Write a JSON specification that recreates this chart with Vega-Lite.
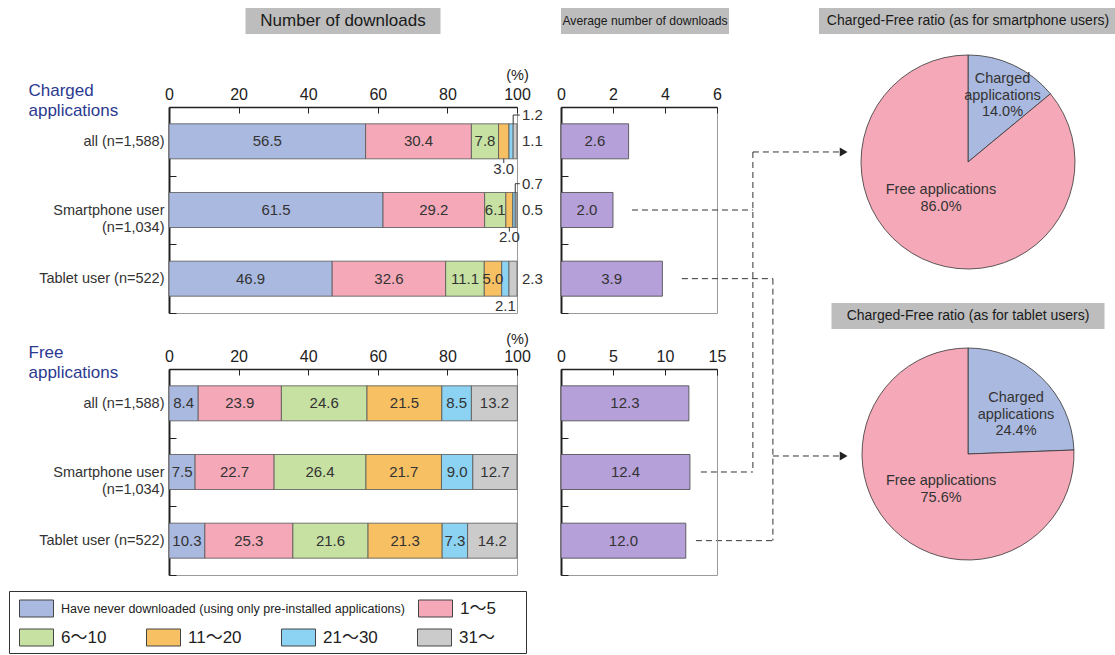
{
  "$schema": "https://vega.github.io/schema/vega-lite/v6.json",
  "background": "white",
  "padding": {"left": 8, "top": 7, "right": 0, "bottom": 0},
  "config": {
    "view": {"stroke": "#9a9a9a", "strokeWidth": 1},
    "axis": {"grid": false, "domainColor": "#222", "tickColor": "#222", "labelColor": "#222", "labelFont": "Liberation Sans, Noto Sans CJK JP, sans-serif", "labelFontSize": 16, "titleFont": "Liberation Sans, sans-serif"},
    "text": {"font": "Liberation Sans, Noto Sans CJK JP, sans-serif", "fontSize": 15, "color": "#333"}
  },
  "datasets": {
    "dl": [
      {"g": "Charged", "u": "all (n=1,588)", "k": 1, "c": "Have never downloaded (using only pre-installed applications)", "v": 56.5},
      {"g": "Charged", "u": "all (n=1,588)", "k": 2, "c": "1～5", "v": 30.4},
      {"g": "Charged", "u": "all (n=1,588)", "k": 3, "c": "6～10", "v": 7.8},
      {"g": "Charged", "u": "all (n=1,588)", "k": 4, "c": "11～20", "v": 3.0},
      {"g": "Charged", "u": "all (n=1,588)", "k": 5, "c": "21～30", "v": 1.2},
      {"g": "Charged", "u": "all (n=1,588)", "k": 6, "c": "31～", "v": 1.1},
      {"g": "Charged", "u": "Smartphone user (n=1,034)", "k": 1, "c": "Have never downloaded (using only pre-installed applications)", "v": 61.5},
      {"g": "Charged", "u": "Smartphone user (n=1,034)", "k": 2, "c": "1～5", "v": 29.2},
      {"g": "Charged", "u": "Smartphone user (n=1,034)", "k": 3, "c": "6～10", "v": 6.1},
      {"g": "Charged", "u": "Smartphone user (n=1,034)", "k": 4, "c": "11～20", "v": 2.0},
      {"g": "Charged", "u": "Smartphone user (n=1,034)", "k": 5, "c": "21～30", "v": 0.7},
      {"g": "Charged", "u": "Smartphone user (n=1,034)", "k": 6, "c": "31～", "v": 0.5},
      {"g": "Charged", "u": "Tablet user (n=522)", "k": 1, "c": "Have never downloaded (using only pre-installed applications)", "v": 46.9},
      {"g": "Charged", "u": "Tablet user (n=522)", "k": 2, "c": "1～5", "v": 32.6},
      {"g": "Charged", "u": "Tablet user (n=522)", "k": 3, "c": "6～10", "v": 11.1},
      {"g": "Charged", "u": "Tablet user (n=522)", "k": 4, "c": "11～20", "v": 5.0},
      {"g": "Charged", "u": "Tablet user (n=522)", "k": 5, "c": "21～30", "v": 2.1},
      {"g": "Charged", "u": "Tablet user (n=522)", "k": 6, "c": "31～", "v": 2.3},
      {"g": "Free", "u": "all (n=1,588)", "k": 1, "c": "Have never downloaded (using only pre-installed applications)", "v": 8.4},
      {"g": "Free", "u": "all (n=1,588)", "k": 2, "c": "1～5", "v": 23.9},
      {"g": "Free", "u": "all (n=1,588)", "k": 3, "c": "6～10", "v": 24.6},
      {"g": "Free", "u": "all (n=1,588)", "k": 4, "c": "11～20", "v": 21.5},
      {"g": "Free", "u": "all (n=1,588)", "k": 5, "c": "21～30", "v": 8.5},
      {"g": "Free", "u": "all (n=1,588)", "k": 6, "c": "31～", "v": 13.2},
      {"g": "Free", "u": "Smartphone user (n=1,034)", "k": 1, "c": "Have never downloaded (using only pre-installed applications)", "v": 7.5},
      {"g": "Free", "u": "Smartphone user (n=1,034)", "k": 2, "c": "1～5", "v": 22.7},
      {"g": "Free", "u": "Smartphone user (n=1,034)", "k": 3, "c": "6～10", "v": 26.4},
      {"g": "Free", "u": "Smartphone user (n=1,034)", "k": 4, "c": "11～20", "v": 21.7},
      {"g": "Free", "u": "Smartphone user (n=1,034)", "k": 5, "c": "21～30", "v": 9.0},
      {"g": "Free", "u": "Smartphone user (n=1,034)", "k": 6, "c": "31～", "v": 12.7},
      {"g": "Free", "u": "Tablet user (n=522)", "k": 1, "c": "Have never downloaded (using only pre-installed applications)", "v": 10.3},
      {"g": "Free", "u": "Tablet user (n=522)", "k": 2, "c": "1～5", "v": 25.3},
      {"g": "Free", "u": "Tablet user (n=522)", "k": 3, "c": "6～10", "v": 21.6},
      {"g": "Free", "u": "Tablet user (n=522)", "k": 4, "c": "11～20", "v": 21.3},
      {"g": "Free", "u": "Tablet user (n=522)", "k": 5, "c": "21～30", "v": 7.3},
      {"g": "Free", "u": "Tablet user (n=522)", "k": 6, "c": "31～", "v": 14.2}
    ],
    "legendRow2": [
      {"cat": "6～10"}, {"cat": "11～20"}, {"cat": "21～30"}, {"cat": "31～"}
    ],
    "avg": [
      {"g": "Charged", "u": "all (n=1,588)", "a": 2.6},
      {"g": "Charged", "u": "Smartphone user (n=1,034)", "a": 2.0},
      {"g": "Charged", "u": "Tablet user (n=522)", "a": 3.9},
      {"g": "Free", "u": "all (n=1,588)", "a": 12.3},
      {"g": "Free", "u": "Smartphone user (n=1,034)", "a": 12.4},
      {"g": "Free", "u": "Tablet user (n=522)", "a": 12.0}
    ],
    "pies": [
      {"who": "smartphone", "k": 1, "part": "Charged applications", "share": 0.14},
      {"who": "smartphone", "k": 2, "part": "Free applications", "share": 0.86},
      {"who": "tablet", "k": 1, "part": "Charged applications", "share": 0.244},
      {"who": "tablet", "k": 2, "part": "Free applications", "share": 0.756}
    ],
    "links": [
      {"x": 2.73, "x2": 7.38, "y": 1.5, "y2": 1.5},
      {"x": 7.38, "x2": 7.38, "y": 0.655, "y2": 5.3155},
      {"x": 7.38, "x2": 10.7, "y": 0.655, "y2": 0.655},
      {"x": 5.38, "x2": 7.38, "y": 5.3155, "y2": 5.3155},
      {"x": 4.65, "x2": 8.15, "y": 2.5, "y2": 2.5},
      {"x": 8.15, "x2": 8.15, "y": 2.5, "y2": 6.3155},
      {"x": 5.19, "x2": 8.15, "y": 6.3155, "y2": 6.3155},
      {"x": 8.15, "x2": 10.7, "y": 5.0825, "y2": 5.0825}
    ],
    "arrows": [
      {"x": 10.87, "y": 0.655},
      {"x": 10.87, "y": 5.0825}
    ]
  },
  "resolve": {"scale": {"color": "independent", "fill": "independent"}, "legend": {"color": "independent", "fill": "independent"}},
  "bounds": "flush",
  "spacing": 160,
  "hconcat": [
    {
      "bounds": "flush",
      "spacing": 582,
      "resolve": {"scale": {"color": "independent", "fill": "independent"}, "legend": {"color": "independent", "fill": "independent"}},
      "vconcat": [
        {
          "width": 1, "height": 1, "view": {"stroke": null},
          "data": {"values": [{}]},
          "mark": {"type": "rule", "opacity": 0},
          "encoding": {}
        },
        {
          "width": 517, "height": 62,
          "view": {"stroke": "#333", "strokeWidth": 1},
          "layer": [
            {
              "data": {"name": "dl"},
              "mark": {"type": "square", "opacity": 0},
              "encoding": {
                "color": {
                  "field": "c", "type": "nominal",
                  "scale": {"domain": ["Have never downloaded (using only pre-installed applications)", "1～5", "6～10", "11～20", "21～30", "31～"], "range": ["#aab9df", "#f5a9b8", "#c6e1a2", "#f7c063", "#8cd2f2", "#cbcbcb"]},
                  "legend": {
                    "values": ["Have never downloaded (using only pre-installed applications)", "1～5"],
                    "orient": "none", "legendX": 10, "legendY": 0, "direction": "horizontal", "columns": 2, "columnPadding": 11,
                    "title": null, "padding": 0,
                    "symbolType": "M-1,-0.5H1V0.5H-1Z", "symbolSize": 1156, "symbolStrokeColor": "#444", "symbolStrokeWidth": 1, "symbolOpacity": 1,
                    "labelFont": "Liberation Sans, Noto Sans CJK JP, sans-serif", "labelFontSize": 12.5, "labelColor": "#222", "labelOffset": 7, "labelLimit": 600,
                    "encode": {"labels": {"update": {"fontSize": {"signal": "datum.value == '1～5' ? 17 : 12.5"}}}}
                  }
                }
              }
            },
            {
              "data": {"name": "legendRow2"},
              "mark": {"type": "square", "opacity": 0},
              "encoding": {
                "fill": {
                  "field": "cat", "type": "nominal",
                  "scale": {"domain": ["6～10", "11～20", "21～30", "31～"], "range": ["#c6e1a2", "#f7c063", "#8cd2f2", "#cbcbcb"]},
                  "legend": {
                    "orient": "none", "legendX": 10, "legendY": 29, "direction": "horizontal", "columns": 4, "columnPadding": 37,
                    "title": null, "padding": 0,
                    "symbolType": "M-1,-0.5H1V0.5H-1Z", "symbolSize": 1156, "symbolStrokeColor": "#444", "symbolStrokeWidth": 1, "symbolOpacity": 1,
                    "labelFont": "Liberation Sans, Noto Sans CJK JP, sans-serif", "labelFontSize": 17, "labelColor": "#222", "labelOffset": 7, "labelLimit": 200
                  }
                }
              }
            }
          ]
        }
      ]
    },
    {
      "bounds": "flush",
      "spacing": 650,
      "resolve": {"scale": {"color": "independent"}},
      "hconcat": [
        {
          "columns": 2,
          "bounds": "flush",
          "align": "each",
          "center": {"column": true},
          "spacing": {"row": 56, "column": 44},
          "concat": [
            {
              "width": 195, "height": 43, "view": {"stroke": null},
              "data": {"values": [{"h": "Number of downloads"}]},
              "encoding": {"y": {"field": "h", "type": "nominal", "axis": null, "scale": {"paddingInner": 0, "paddingOuter": 0.327, "align": 0}}},
              "layer": [
                {"mark": {"type": "bar", "color": "#bdbdbd"}},
                {"mark": {"type": "text", "fontSize": 17, "color": "#1a1a1a"}, "encoding": {"text": {"field": "h"}}}
              ]
            },
            {
              "width": 168, "height": 43, "view": {"stroke": null},
              "data": {"values": [{"h": "Average number of downloads"}]},
              "encoding": {"y": {"field": "h", "type": "nominal", "axis": null, "scale": {"paddingInner": 0, "paddingOuter": 0.327, "align": 0}}},
              "layer": [
                {"mark": {"type": "bar", "color": "#bdbdbd"}},
                {"mark": {"type": "text", "fontSize": 12.2, "color": "#1a1a1a"}, "encoding": {"text": {"field": "h"}}}
              ]
            },
            {
              "width": 348, "height": 206,
              "data": {"name": "dl"},
              "transform": [{"filter": "datum.g == 'Charged'"}],
              "encoding": {
                "y": {
                  "field": "u", "type": "nominal", "sort": null,
                  "scale": {"paddingInner": 0, "paddingOuter": 0},
                  "axis": {
                    "title": ["Charged", "applications"], "titleAngle": 0, "titleAlign": "left", "titleBaseline": "alphabetic",
                    "titleX": -141, "titleY": -12, "titleFontSize": 17, "titleFontWeight": "normal", "titleColor": "#2b3990", "titleLineHeight": 20,
                    "labelExpr": "datum.label == 'Smartphone user (n=1,034)' ? ['Smartphone user', '(n=1,034)'] : datum.label",
                    "labelFontSize": 14.5, "labelColor": "#333", "labelLineHeight": 17, "labelPadding": 12,
                    "tickBand": "extent", "tickSize": -7, "domainWidth": 2
                  }
                },
                "order": {"field": "k", "type": "quantitative"}
              },
              "layer": [
                {
                  "mark": {"type": "bar", "height": {"band": 0.51}, "stroke": "#555", "strokeWidth": 0.8},
                  "encoding": {
                    "x": {
                      "field": "v", "type": "quantitative", "stack": "zero", "scale": {"domain": [0, 100]},
                      "axis": {"orient": "top", "values": [0, 20, 40, 60, 80, 100], "title": "(%)", "titleX": 348, "titleY": -32, "titleAlign": "center", "titleBaseline": "middle", "titleFontSize": 14.5, "titleFontWeight": "normal", "titleColor": "#222", "tickSize": -6, "labelPadding": 11, "labelFlush": false, "domainWidth": 1.5}
                    },
                    "color": {"field": "c", "type": "nominal", "scale": {"domain": ["Have never downloaded (using only pre-installed applications)", "1～5", "6～10", "11～20", "21～30", "31～"], "range": ["#aab9df", "#f5a9b8", "#c6e1a2", "#f7c063", "#8cd2f2", "#cbcbcb"]}, "legend": null}
                  }
                },
                {
                  "mark": {"type": "text"},
                  "encoding": {
                    "x": {"field": "v", "type": "quantitative", "stack": "zero", "bandPosition": 0.5, "scale": {"domain": [0, 100]}},
                    "text": {"condition": {"test": "datum.v >= 5", "field": "v", "type": "quantitative", "format": ".1f"}, "value": ""}
                  }
                },
                {
                  "mark": {"type": "text", "baseline": "middle"},
                  "encoding": {
                    "x": {"field": "v", "type": "quantitative", "stack": "zero", "bandPosition": 0.5, "scale": {"domain": [0, 100]}},
                    "y": {"field": "u", "type": "nominal", "sort": null, "bandPosition": 0.9},
                    "text": {"condition": {"test": "datum.v < 5 && (datum.c == '11～20' || (datum.c == '21～30' && datum.u == 'Tablet user (n=522)'))", "field": "v", "type": "quantitative", "format": ".1f"}, "value": ""}
                  }
                },
                {
                  "mark": {"type": "rule", "color": "#333", "strokeWidth": 1},
                  "encoding": {
                    "x": {"field": "v", "type": "quantitative", "stack": "zero", "bandPosition": 0.5, "scale": {"domain": [0, 100]}},
                    "y": {"field": "u", "type": "nominal", "sort": null, "bandPosition": 0.75},
                    "y2": {"field": "u", "bandPosition": 0.815},
                    "opacity": {"condition": {"test": "datum.v < 5 && datum.c == '11～20'", "value": 1}, "value": 0}
                  }
                },
                {
                  "mark": {"type": "text", "align": "left", "dx": 5},
                  "encoding": {
                    "x": {"datum": 100, "type": "quantitative", "scale": {"domain": [0, 100]}},
                    "text": {"condition": {"test": "datum.v < 5 && datum.c == '31～'", "field": "v", "type": "quantitative", "format": ".1f"}, "value": ""}
                  }
                },
                {
                  "mark": {"type": "text", "align": "left", "baseline": "middle", "dx": 5},
                  "encoding": {
                    "x": {"datum": 100, "type": "quantitative", "scale": {"domain": [0, 100]}},
                    "y": {"field": "u", "type": "nominal", "sort": null, "bandPosition": 0.117},
                    "text": {"condition": {"test": "datum.v < 5 && datum.c == '21～30' && datum.u != 'Tablet user (n=522)'", "field": "v", "type": "quantitative", "format": ".1f"}, "value": ""}
                  }
                },
                {
                  "transform": [
                    {"stack": "v", "groupby": ["u"], "sort": [{"field": "k", "order": "ascending"}], "as": ["s0", "s1"]},
                    {"filter": "datum.v < 5 && datum.c == '21～30' && datum.u != 'Tablet user (n=522)'"}
                  ],
                  "mark": {"type": "rule", "color": "#333", "strokeWidth": 1},
                  "encoding": {
                    "x": {"field": "s1", "type": "quantitative", "scale": {"domain": [0, 100]}},
                    "y": {"field": "u", "type": "nominal", "sort": null, "bandPosition": 0.245},
                    "y2": {"field": "u", "bandPosition": 0.117}
                  }
                },
                {
                  "transform": [
                    {"stack": "v", "groupby": ["u"], "sort": [{"field": "k", "order": "ascending"}], "as": ["s0", "s1"]},
                    {"filter": "datum.v < 5 && datum.c == '21～30' && datum.u != 'Tablet user (n=522)'"}
                  ],
                  "mark": {"type": "rule", "color": "#333", "strokeWidth": 1},
                  "encoding": {
                    "x": {"field": "s1", "type": "quantitative", "scale": {"domain": [0, 100]}},
                    "x2": {"datum": 100.8},
                    "y": {"field": "u", "type": "nominal", "sort": null, "bandPosition": 0.117}
                  }
                }
              ]
            },
            {
              "width": 156, "height": 206,
              "resolve": {"scale": {"y": "independent"}},
              "layer": [
                {
                  "data": {"name": "avg"},
                  "transform": [{"filter": "datum.g == 'Charged'"}],
                  "encoding": {
                    "y": {"field": "u", "type": "nominal", "sort": null, "scale": {"paddingInner": 0, "paddingOuter": 0},
                      "axis": {"title": null, "labels": false, "tickBand": "extent", "tickSize": -7, "domainWidth": 2}}
                  },
                  "layer": [
                    {
                      "mark": {"type": "bar", "height": {"band": 0.51}, "color": "#b6a0d9", "stroke": "#444", "strokeWidth": 0.8},
                      "encoding": {
                        "x": {"field": "a", "type": "quantitative", "scale": {"domain": [0, 6]},
                          "axis": {"orient": "top", "values": [0, 2, 4, 6], "title": null, "tickSize": -6, "labelPadding": 11, "labelFlush": false, "domainWidth": 1.5}}
                      }
                    },
                    {
                      "mark": {"type": "text"},
                      "encoding": {
                        "x": {"field": "a", "type": "quantitative", "stack": "zero", "bandPosition": 0.5, "scale": {"domain": [0, 6]}},
                        "text": {"field": "a", "type": "quantitative", "format": ".1f"}
                      }
                    }
                  ]
                },
                {
                  "layer": [
                    {
                      "data": {"name": "links"},
                      "mark": {"type": "rule", "color": "#333", "strokeWidth": 1, "strokeDash": [6, 4]},
                      "encoding": {
                        "x": {"field": "x", "type": "quantitative", "scale": {"domain": [0, 6]}},
                        "x2": {"field": "x2"},
                        "y": {"field": "y", "type": "quantitative", "scale": {"domain": [0, 3], "reverse": true, "nice": false, "zero": false}, "axis": null},
                        "y2": {"field": "y2"}
                      }
                    },
                    {
                      "data": {"name": "arrows"},
                      "mark": {"type": "point", "shape": "triangle-right", "filled": true, "color": "#222", "size": 80, "opacity": 1},
                      "encoding": {
                        "x": {"field": "x", "type": "quantitative", "scale": {"domain": [0, 6]}},
                        "y": {"field": "y", "type": "quantitative", "scale": {"domain": [0, 3], "reverse": true, "nice": false, "zero": false}, "axis": null}
                      }
                    }
                  ]
                }
              ]
            },
            {
              "width": 348, "height": 206,
              "data": {"name": "dl"},
              "transform": [{"filter": "datum.g == 'Free'"}],
              "encoding": {
                "y": {
                  "field": "u", "type": "nominal", "sort": null,
                  "scale": {"paddingInner": 0, "paddingOuter": 0},
                  "axis": {
                    "title": ["Free", "applications"], "titleAngle": 0, "titleAlign": "left", "titleBaseline": "alphabetic",
                    "titleX": -141, "titleY": -12, "titleFontSize": 17, "titleFontWeight": "normal", "titleColor": "#2b3990", "titleLineHeight": 20,
                    "labelExpr": "datum.label == 'Smartphone user (n=1,034)' ? ['Smartphone user', '(n=1,034)'] : datum.label",
                    "labelFontSize": 14.5, "labelColor": "#333", "labelLineHeight": 17, "labelPadding": 12,
                    "tickBand": "extent", "tickSize": -7, "domainWidth": 2
                  }
                },
                "order": {"field": "k", "type": "quantitative"}
              },
              "layer": [
                {
                  "mark": {"type": "bar", "height": {"band": 0.51}, "stroke": "#555", "strokeWidth": 0.8},
                  "encoding": {
                    "x": {
                      "field": "v", "type": "quantitative", "stack": "zero", "scale": {"domain": [0, 100]},
                      "axis": {"orient": "top", "values": [0, 20, 40, 60, 80, 100], "title": "(%)", "titleX": 348, "titleY": -30, "titleAlign": "center", "titleBaseline": "middle", "titleFontSize": 14.5, "titleFontWeight": "normal", "titleColor": "#222", "tickSize": -6, "labelPadding": 11, "labelFlush": false, "domainWidth": 1.5}
                    },
                    "color": {"field": "c", "type": "nominal", "scale": {"domain": ["Have never downloaded (using only pre-installed applications)", "1～5", "6～10", "11～20", "21～30", "31～"], "range": ["#aab9df", "#f5a9b8", "#c6e1a2", "#f7c063", "#8cd2f2", "#cbcbcb"]}, "legend": null}
                  }
                },
                {
                  "mark": {"type": "text"},
                  "encoding": {
                    "x": {"field": "v", "type": "quantitative", "stack": "zero", "bandPosition": 0.5, "scale": {"domain": [0, 100]}},
                    "text": {"field": "v", "type": "quantitative", "format": ".1f"}
                  }
                }
              ]
            },
            {
              "width": 156, "height": 206,
              "data": {"name": "avg"},
              "transform": [{"filter": "datum.g == 'Free'"}],
              "encoding": {
                "y": {"field": "u", "type": "nominal", "sort": null, "scale": {"paddingInner": 0, "paddingOuter": 0},
                  "axis": {"title": null, "labels": false, "tickBand": "extent", "tickSize": -7, "domainWidth": 2}}
              },
              "layer": [
                {
                  "mark": {"type": "bar", "height": {"band": 0.51}, "color": "#b6a0d9", "stroke": "#444", "strokeWidth": 0.8},
                  "encoding": {
                    "x": {"field": "a", "type": "quantitative", "scale": {"domain": [0, 15]},
                      "axis": {"orient": "top", "values": [0, 5, 10, 15], "title": null, "tickSize": -6, "labelPadding": 11, "labelFlush": false, "domainWidth": 1.5}}
                  }
                },
                {
                  "mark": {"type": "text"},
                  "encoding": {
                    "x": {"field": "a", "type": "quantitative", "stack": "zero", "bandPosition": 0.5, "scale": {"domain": [0, 15]}},
                    "text": {"field": "a", "type": "quantitative", "format": ".1f"}
                  }
                }
              ]
            }
          ]
        },
        {
          "bounds": "flush",
          "center": true,
          "spacing": 20,
          "vconcat": [
            {
              "width": 298, "height": 26, "view": {"stroke": null},
              "data": {"values": [{"h": "Charged-Free ratio (as for smartphone users)"}]},
              "encoding": {"y": {"field": "h", "type": "nominal", "axis": null, "scale": {"paddingInner": 0, "paddingOuter": 0}}},
              "layer": [
                {"mark": {"type": "bar", "color": "#bdbdbd"}},
                {"mark": {"type": "text", "fontSize": 14, "color": "#1a1a1a"}, "encoding": {"text": {"field": "h"}}}
              ]
            },
            {
              "width": 298, "height": 216, "view": {"stroke": null},
              "data": {"name": "pies"},
              "transform": [{"filter": "datum.who == 'smartphone'"}],
              "encoding": {
                "theta": {"field": "share", "type": "quantitative", "stack": true},
                "order": {"field": "k", "type": "quantitative"}
              },
              "layer": [
                {
                  "mark": {"type": "arc", "outerRadius": 107, "stroke": "#333", "strokeWidth": 0.8},
                  "encoding": {"color": {"field": "part", "type": "nominal", "scale": {"domain": ["Charged applications", "Free applications"], "range": ["#aab9df", "#f5a9b8"]}, "legend": null}}
                },
                {
                  "mark": {"type": "text", "radius": 74, "lineBreak": " ", "baseline": "middle", "dx": 3, "dy": -16, "lineHeight": 16.5, "fontSize": 14.5},
                  "encoding": {"text": {"condition": {"test": "datum.k == 1", "field": "part", "type": "nominal"}, "value": ""}}
                },
                {
                  "mark": {"type": "text", "radius": 74, "baseline": "middle", "dx": 3, "dy": 17, "fontSize": 14.5},
                  "encoding": {"text": {"condition": {"test": "datum.k == 1", "field": "share", "type": "quantitative", "format": ".1%"}, "value": ""}}
                },
                {
                  "mark": {"type": "text", "radius": 40, "baseline": "middle", "dx": -10, "dy": -8.5, "fontSize": 14.5},
                  "encoding": {"text": {"condition": {"test": "datum.k == 2", "field": "part", "type": "nominal"}, "value": ""}}
                },
                {
                  "mark": {"type": "text", "radius": 40, "baseline": "middle", "dx": -10, "dy": 8.5, "fontSize": 14.5},
                  "encoding": {"text": {"condition": {"test": "datum.k == 2", "field": "share", "type": "quantitative", "format": ".1%"}, "value": ""}}
                }
              ]
            },
            {
              "width": 273, "height": 39, "view": {"stroke": null},
              "data": {"values": [{"h": "Charged-Free ratio (as for tablet users)"}]},
              "encoding": {"y": {"field": "h", "type": "nominal", "axis": null, "scale": {"paddingInner": 0, "paddingOuter": 0.25, "align": 1}}},
              "layer": [
                {"mark": {"type": "bar", "color": "#bdbdbd"}},
                {"mark": {"type": "text", "fontSize": 14, "color": "#1a1a1a"}, "encoding": {"text": {"field": "h"}}}
              ]
            },
            {
              "width": 298, "height": 210, "view": {"stroke": null},
              "data": {"name": "pies"},
              "transform": [{"filter": "datum.who == 'tablet'"}],
              "encoding": {
                "theta": {"field": "share", "type": "quantitative", "stack": true},
                "order": {"field": "k", "type": "quantitative"}
              },
              "layer": [
                {
                  "mark": {"type": "arc", "outerRadius": 106, "stroke": "#333", "strokeWidth": 0.8},
                  "encoding": {"color": {"field": "part", "type": "nominal", "scale": {"domain": ["Charged applications", "Free applications"], "range": ["#aab9df", "#f5a9b8"]}, "legend": null}}
                },
                {
                  "mark": {"type": "text", "radius": 62, "lineBreak": " ", "baseline": "middle", "dx": 5, "dy": -11, "lineHeight": 16.5, "fontSize": 14.5},
                  "encoding": {"text": {"condition": {"test": "datum.k == 1", "field": "part", "type": "nominal"}, "value": ""}}
                },
                {
                  "mark": {"type": "text", "radius": 62, "baseline": "middle", "dx": 5, "dy": 22, "fontSize": 14.5},
                  "encoding": {"text": {"condition": {"test": "datum.k == 1", "field": "share", "type": "quantitative", "format": ".1%"}, "value": ""}}
                },
                {
                  "mark": {"type": "text", "radius": 46, "baseline": "middle", "dx": 5, "dy": -6, "fontSize": 14.5},
                  "encoding": {"text": {"condition": {"test": "datum.k == 2", "field": "part", "type": "nominal"}, "value": ""}}
                },
                {
                  "mark": {"type": "text", "radius": 46, "baseline": "middle", "dx": 5, "dy": 11, "fontSize": 14.5},
                  "encoding": {"text": {"condition": {"test": "datum.k == 2", "field": "share", "type": "quantitative", "format": ".1%"}, "value": ""}}
                }
              ]
            }
          ]
        }
      ]
    }
  ]
}
